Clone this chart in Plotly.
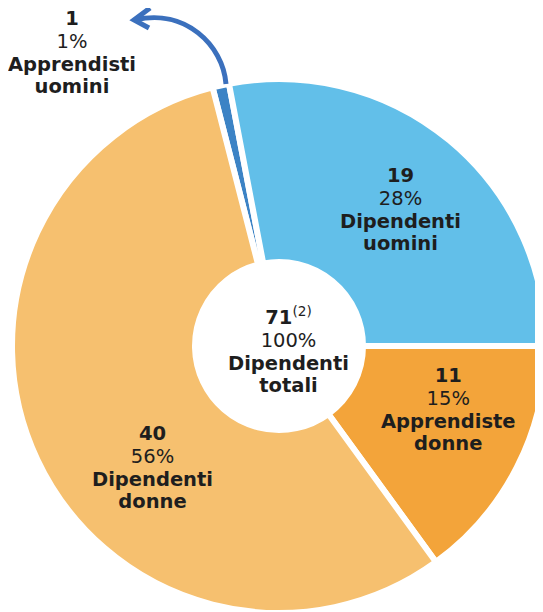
import plotly.graph_objects as go

# data
labels = ["Apprendisti uomini", "Dipendenti uomini", "Apprendiste donne", "Dipendenti donne"]
counts = [1, 19, 11, 40]
shares = [1, 28, 15, 56]          # % shown on the chart
colors = ["#3c83c5", "#62bfe9", "#f3a43a", "#f6c06f"]
total_count = 71
total_label = "Dipendenti totali"
total_note = "(2)"

W, H = 543, 612
PAGE = 8   # default body margin of the html page
TXT = "#1e1e1e"
FONT = "DejaVu Sans"

# label block centres in page pixels
label_pos = [(72, 53), (400, 210), (448, 409), (152, 467)]
center_pos = (288, 350)

# pie: centre and outer radius in page pixels
cx, cy, r = 279, 346, 267


def px(x, y):
    return (x - PAGE) / W, 1 - (y - PAGE) / H


x0, y0 = px(cx - r, cy + r)
x1, y1 = px(cx + r, cy - r)

fig = go.Figure(go.Pie(
    labels=labels,
    values=shares,
    sort=False,
    direction="clockwise",
    rotation=90 - (shares[0] + shares[1]) * 3.6,  # uomini/donne split at 3 o'clock
    hole=0.3146,
    marker=dict(colors=colors, line=dict(color="white", width=6)),
    textinfo="none",
    hoverinfo="label+value",
    domain=dict(x=[x0, x1], y=[y0, y1]),
))


def block(first, pct, name):
    words = name.split(" ")
    b = "<span style='font-size:19.5px'>{}</span>"
    light = f"<span style='font-weight:normal;font-size:19.5px'>{pct}</span>"
    return "<br>".join([b.format(first), light, b.format(words[0]), b.format(" ".join(words[1:]))])


annotations = []
for (x, y), n, s, name in zip(label_pos, counts, shares, labels):
    xx, yy = px(x, y)
    annotations.append(dict(x=xx, y=yy, text=block(str(n), f"{s}%", name)))

xx, yy = px(*center_pos)
first = f"{total_count}<span style='font-weight:normal'><sup>{total_note}</sup></span>"
annotations.append(dict(x=xx, y=yy, text=block(first, "100%", total_label)))

for a in annotations:
    a.update(xref="paper", yref="paper", showarrow=False, xanchor="center", yanchor="middle",
             align="center", font=dict(family=FONT, size=17.5, color=TXT, weight="bold"))


def path(points, cmd):
    return cmd.format(*[v for p in points for v in px(*p)])


arrow_col = "#3b70bd"
shapes = [
    dict(type="path", xref="paper", yref="paper",
         path=path([(226, 84), (223, 45), (185, 8), (135, 20)], "M {},{} C {},{} {},{} {},{}"),
         line=dict(color=arrow_col, width=5), layer="above"),
    dict(type="path", xref="paper", yref="paper",
         path=path([(150, 8), (134, 20), (149, 28)], "M {},{} L {},{} L {},{}"),
         line=dict(color=arrow_col, width=5), layer="above"),
]

fig.update_layout(
    width=W, height=H,
    margin=dict(l=0, r=0, t=0, b=0),
    paper_bgcolor="white",
    plot_bgcolor="white",
    showlegend=False,
    annotations=annotations,
    shapes=shapes,
)

fig.write_html("out.html")
